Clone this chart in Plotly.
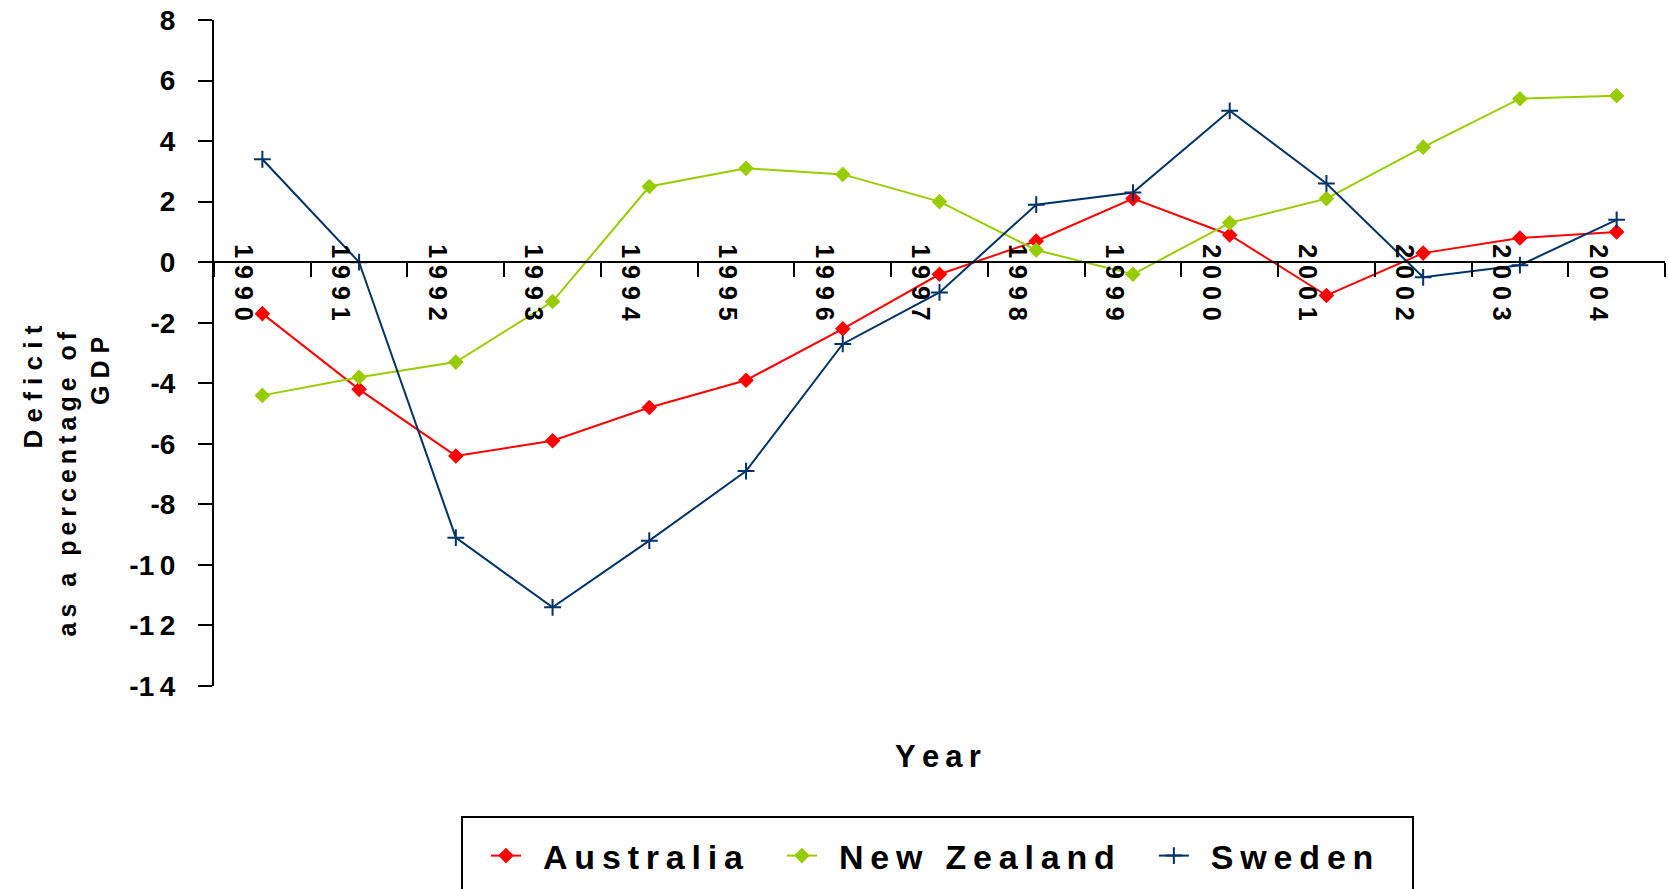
import plotly.graph_objects as go

# Budget deficit as a percentage of GDP, 1990-2004
years = [str(y) for y in range(1990, 2005)]
australia = [-1.7, -4.2, -6.4, -5.9, -4.8, -3.9, -2.2, -0.4, 0.7, 2.1, 0.9, -1.1, 0.3, 0.8, 1.0]
new_zealand = [-4.4, -3.8, -3.3, -1.3, 2.5, 3.1, 2.9, 2.0, 0.4, -0.4, 1.3, 2.1, 3.8, 5.4, 5.5]
sweden = [3.4, 0.0, -9.1, -11.4, -9.2, -6.9, -2.7, -1.0, 1.9, 2.3, 5.0, 2.6, -0.5, -0.1, 1.4]

y_ticks = list(range(-14, 9, 2))

FONT = "Liberation Sans, Arial, sans-serif"
THIN = "\u2009"
EN = "\u2002"
EM = "\u2003"


def spaced(s, gap=THIN):
    """Letter-spaced text: a gap between characters, a wider one between words."""
    words = s.split(" ")
    return (gap + " " + gap).join(gap.join(w) for w in words)


def tick_label(v):
    s = str(abs(v))
    return ("-" if v < 0 else "") + THIN.join(s)


W, H = 1668, 889
L, R, T, B = 214, 3, 20, 203
plot_w = W - L - R
plot_h = H - T - B
y_min, y_max = -14, 8


def px_x(px):
    return (px - L) / plot_w


def px_y(py):
    return (H - B - py) / plot_h


fig = go.Figure()

fig.add_trace(go.Scatter(
    x=years, y=australia, name=EN + spaced("Australia") + EM, mode="lines+markers",
    line=dict(color="#FF0000", width=2),
    marker=dict(symbol="diamond", size=12, color="#FF0000"),
))
fig.add_trace(go.Scatter(
    x=years, y=new_zealand, name=EN + spaced("New Zealand") + EM, mode="lines+markers",
    line=dict(color="#99CC00", width=2),
    marker=dict(symbol="diamond", size=12, color="#99CC00"),
))
fig.add_trace(go.Scatter(
    x=years, y=sweden, name=EN + spaced("Sweden"), mode="lines+markers",
    line=dict(color="#003366", width=2),
    marker=dict(symbol="cross-thin", size=12, color="#003366",
                line=dict(color="#003366", width=2)),
))

# y-axis title, three right-aligned lines
title_lines = [(spaced("Deficit", " "), 26, 32, 324),
               (spaced("as a percentage of"), 25, 67, 330),
               (spaced("GDP", " "), 25, 100, 335)]
for text, size, cx, top in title_lines:
    fig.add_annotation(
        text=text, textangle=-90, showarrow=False,
        xref="paper", yref="paper", x=px_x(cx), y=px_y(top),
        xanchor="center", yanchor="top",
        font=dict(family=FONT, size=size, color="black", weight="bold"),
    )

fig.add_annotation(
    text=spaced("Year"), showarrow=False,
    xref="paper", yref="paper", x=px_x(938), y=px_y(756),
    xanchor="center", yanchor="middle",
    font=dict(family=FONT, size=31, color="black", weight="bold"),
)

# legend frame, running off the bottom edge
fig.add_shape(
    type="rect", xref="paper", yref="paper",
    x0=px_x(462), x1=px_x(1413), y0=px_y(817), y1=px_y(900),
    line=dict(color="black", width=2), fillcolor="rgba(0,0,0,0)",
)

fig.update_layout(
    width=W, height=H,
    margin=dict(l=L, r=R, t=T, b=B, autoexpand=False),
    paper_bgcolor="white", plot_bgcolor="white",
    showlegend=True,
    legend=dict(
        orientation="h", x=px_x(486), xanchor="left",
        y=px_y(827), yanchor="top",
        bgcolor="rgba(0,0,0,0)", borderwidth=0,
        font=dict(family=FONT, size=34, color="black", weight="bold"),
    ),
    xaxis=dict(
        type="category", range=[-0.5, 14.5],
        anchor="free", position=(0 - y_min) / (y_max - y_min),
        showline=True, linecolor="black", linewidth=2,
        ticks="outside", tickson="boundaries", ticklen=14, tickwidth=2, tickcolor="black",
        tickvals=years, ticktext=[" ".join(y) for y in years],
        tickangle=90, ticklabelshift=-19, ticklabelstandoff=-24,
        tickfont=dict(family=FONT, size=25, color="black", weight="bold"),
        showgrid=False, zeroline=False,
    ),
    yaxis=dict(
        range=[y_min, y_max],
        showline=True, linecolor="black", linewidth=2,
        ticks="outside", ticklen=14, tickwidth=2, tickcolor="black",
        tickvals=y_ticks, ticktext=[tick_label(v) for v in y_ticks],
        ticklabelstandoff=17,
        tickfont=dict(family=FONT, size=28, color="black", weight="bold"),
        showgrid=False, zeroline=False,
    ),
)

fig.write_html("out.html")
